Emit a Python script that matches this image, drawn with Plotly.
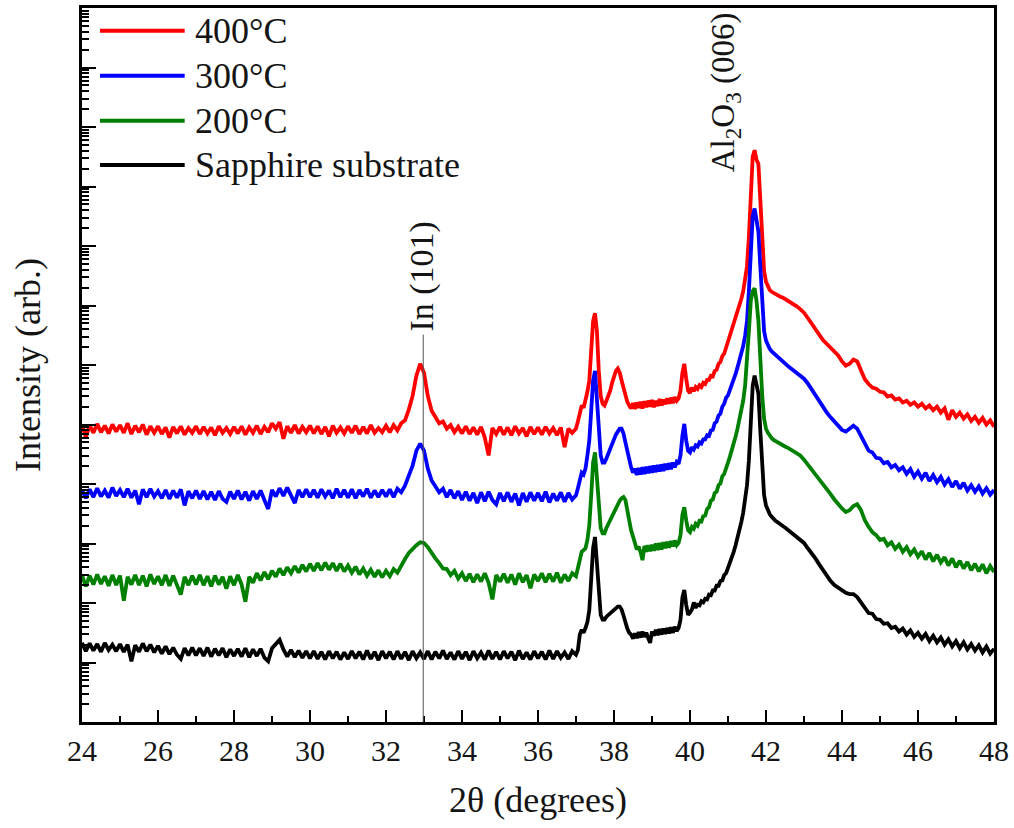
import plotly.graph_objects as go

# ---------------- data (log10 of intensity, arbitrary units) ----------------
def grid(start, stop, step):
    n = int(round((stop - start) / step)) + 1
    return [round(start + i * step, 2) for i in range(n)]

# sampling grid of 2-theta (degrees): 0.1 deg steps, 0.05 deg across the peak region
TWO_THETA = grid(24.0, 36.9, 0.1) + grid(37.0, 42.5, 0.05) + grid(42.6, 48.0, 0.1)

LOG_I_400 = [
    # 24.0 - 36.9
    5.00, 4.78, 4.99, 4.86, 5.01, 4.87, 4.98, 4.85, 5.00, 4.88,
    4.99, 4.86, 5.02, 4.84, 4.98, 4.87, 5.00, 4.83, 4.97, 4.86,
    4.97, 4.84, 4.95, 4.78, 4.96, 4.85, 4.97, 4.83, 4.94, 4.86,
    4.97, 4.84, 4.96, 4.85, 4.95, 4.82, 4.97, 4.86, 4.94, 4.84,
    4.96, 4.85, 4.97, 4.83, 4.95, 4.86, 4.98, 4.84, 4.96, 4.87,
    5.02, 4.93, 5.04, 4.76, 4.97, 4.86, 4.99, 4.85, 4.96, 4.87,
    4.98, 4.85, 4.97, 4.84, 4.96, 4.80, 4.98, 4.86, 4.95, 4.85,
    4.97, 4.86, 4.98, 4.84, 4.96, 4.85, 4.99, 4.86, 4.94, 4.87,
    4.98, 4.87, 4.99, 4.90, 5.02, 5.07, 5.25, 5.48, 5.82, 6.02,
    5.87, 5.48, 5.23, 5.12, 5.02, 5.05, 4.93, 4.99, 4.87, 4.96,
    4.85, 4.97, 4.84, 4.95, 4.83, 4.96, 4.78, 4.48, 4.94, 4.84,
    4.96, 4.83, 4.95, 4.82, 4.97, 4.85, 4.94, 4.80, 4.96, 4.84,
    4.95, 4.83, 4.96, 4.85, 4.94, 4.82, 4.95, 4.62, 4.93, 4.86,
    # 37.00 - 42.50
    4.93, 5.05, 5.23, 5.32, 5.28, 5.40, 5.55, 5.74, 6.24, 6.74,
    6.87, 6.57, 5.90, 5.48, 5.35, 5.32, 5.40, 5.48, 5.57, 5.70,
    5.82, 5.90, 5.94, 5.87, 5.74, 5.60, 5.48, 5.38, 5.32, 5.27,
    5.36, 5.26, 5.37, 5.28, 5.38, 5.27, 5.39, 5.29, 5.40, 5.30,
    5.41, 5.29, 5.40, 5.31, 5.43, 5.32, 5.42, 5.34, 5.44, 5.35,
    5.45, 5.36, 5.46, 5.40, 5.44, 5.57, 5.87, 6.02, 5.77, 5.57,
    5.53, 5.62, 5.56, 5.63, 5.60, 5.66, 5.63, 5.70, 5.68, 5.75,
    5.75, 5.82, 5.81, 5.90, 5.92, 6.02, 6.05, 6.15, 6.19, 6.29,
    6.37, 6.47, 6.57, 6.67, 6.77, 6.88, 6.99, 7.11, 7.24, 7.41,
    7.66, 8.16, 8.91, 9.50, 9.61, 9.45, 9.38, 8.75, 8.00, 7.58,
    7.40, 7.31, 7.26, 7.23, 7.21, 7.20, 7.18, 7.16, 7.14, 7.13,
    7.11,
    # 42.6 - 48.0
    7.08, 7.04, 6.99, 6.94, 6.88, 6.79, 6.69, 6.59, 6.51, 6.42,
    6.36, 6.29, 6.22, 6.16, 6.06, 5.99, 6.02, 6.09, 6.06, 5.92,
    5.76, 5.68, 5.62, 5.60, 5.55, 5.54, 5.47, 5.49, 5.42, 5.44,
    5.37, 5.40, 5.33, 5.37, 5.30, 5.35, 5.27, 5.32, 5.24, 5.30,
    5.20, 5.27, 5.08, 5.24, 5.13, 5.20, 5.10, 5.17, 5.06, 5.13,
    5.03, 5.11, 5.00, 5.07, 4.96,
]

LOG_I_300 = [
    3.90, 3.76, 3.91, 3.78, 3.93, 3.79, 3.89, 3.77, 3.94, 3.80,
    3.90, 3.78, 3.92, 3.77, 3.89, 3.66, 3.91, 3.78, 3.92, 3.79,
    3.88, 3.76, 3.90, 3.75, 3.89, 3.77, 3.91, 3.64, 3.88, 3.76,
    3.89, 3.75, 3.88, 3.74, 3.87, 3.73, 3.88, 3.75, 3.70, 3.87,
    3.75, 3.89, 3.74, 3.87, 3.72, 3.88, 3.75, 3.89, 3.73, 3.58,
    3.90, 3.79, 3.93, 3.80, 3.94, 3.81, 3.68, 3.90, 3.78, 3.91,
    3.78, 3.90, 3.77, 3.91, 3.79, 3.89, 3.76, 3.92, 3.78, 3.90,
    3.77, 3.91, 3.76, 3.90, 3.79, 3.92, 3.77, 3.89, 3.78, 3.90,
    3.79, 3.91, 3.78, 3.92, 3.86, 3.97, 4.12, 4.31, 4.56, 4.68,
    4.56, 4.26, 4.06, 3.96, 3.86, 3.92, 3.78, 3.90, 3.76, 3.88,
    3.73, 3.87, 3.72, 3.85, 3.68, 3.86, 3.71, 3.87, 3.73, 3.66,
    3.85, 3.71, 3.86, 3.70, 3.84, 3.64, 3.85, 3.70, 3.86, 3.72,
    3.85, 3.71, 3.87, 3.69, 3.84, 3.72, 3.86, 3.70, 3.85, 3.74,
    3.81, 3.93, 4.09, 4.19, 4.16, 4.26, 4.48, 4.73, 5.23, 5.74,
    5.90, 5.48, 4.90, 4.48, 4.36, 4.36, 4.43, 4.51, 4.60, 4.69,
    4.77, 4.83, 4.88, 4.93, 4.93, 4.85, 4.70, 4.55, 4.40, 4.28,
    4.19, 4.26, 4.15, 4.27, 4.16, 4.28, 4.17, 4.29, 4.18, 4.30,
    4.19, 4.31, 4.20, 4.32, 4.21, 4.33, 4.22, 4.34, 4.24, 4.35,
    4.25, 4.36, 4.28, 4.37, 4.34, 4.48, 4.81, 5.01, 4.73, 4.56,
    4.53, 4.62, 4.58, 4.65, 4.63, 4.70, 4.68, 4.75, 4.75, 4.82,
    4.81, 4.90, 4.91, 5.02, 5.05, 5.15, 5.18, 5.30, 5.35, 5.45,
    5.49, 5.57, 5.65, 5.75, 5.85, 5.96, 6.07, 6.19, 6.32, 6.49,
    6.74, 7.24, 7.91, 8.50, 8.63, 8.38, 8.24, 7.66, 6.99, 6.57,
    6.41, 6.32, 6.27, 6.23, 6.20, 6.17, 6.14, 6.10, 6.07, 6.05,
    6.02,
    5.97, 5.92, 5.87, 5.82, 5.77, 5.69, 5.59, 5.49, 5.38, 5.28,
    5.20, 5.12, 5.05, 4.98, 4.91, 4.88, 4.93, 4.98, 4.93, 4.80,
    4.66, 4.56, 4.53, 4.44, 4.43, 4.35, 4.37, 4.28, 4.32, 4.23,
    4.28, 4.17, 4.25, 4.12, 4.21, 4.09, 4.19, 4.05, 4.15, 4.03,
    4.12, 3.99, 4.08, 3.95, 4.05, 3.92, 4.02, 3.89, 3.98, 3.87,
    3.96, 3.84, 3.93, 3.82, 3.90,
]

LOG_I_200 = [
    2.47, 2.28, 2.46, 2.31, 2.48, 2.32, 2.45, 2.29, 2.47, 2.30,
    2.46, 2.04, 2.44, 2.31, 2.47, 2.30, 2.46, 2.28, 2.48, 2.32,
    2.45, 2.30, 2.47, 2.29, 2.46, 2.31, 2.14, 2.44, 2.30, 2.46,
    2.31, 2.47, 2.30, 2.45, 2.28, 2.46, 2.31, 2.44, 2.24, 2.45,
    2.30, 2.47, 2.31, 2.02, 2.44, 2.34, 2.50, 2.38, 2.52, 2.40,
    2.54, 2.44, 2.58, 2.47, 2.60, 2.50, 2.62, 2.51, 2.64, 2.53,
    2.66, 2.54, 2.67, 2.55, 2.68, 2.56, 2.67, 2.54, 2.66, 2.53,
    2.63, 2.51, 2.61, 2.48, 2.58, 2.46, 2.56, 2.44, 2.55, 2.43,
    2.54, 2.45, 2.57, 2.51, 2.64, 2.74, 2.84, 2.91, 2.97, 3.02,
    3.01, 2.94, 2.84, 2.75, 2.67, 2.58, 2.57, 2.47, 2.54, 2.41,
    2.50, 2.37, 2.49, 2.35, 2.48, 2.36, 2.50, 2.34, 2.06, 2.47,
    2.36, 2.49, 2.34, 2.48, 2.31, 2.50, 2.35, 2.47, 2.25, 2.48,
    2.37, 2.50, 2.35, 2.49, 2.36, 2.51, 2.34, 2.48, 2.37, 2.50,
    2.45, 2.58, 2.72, 2.86, 2.89, 2.92, 3.06, 3.31, 3.81, 4.36,
    4.53, 4.14, 3.56, 3.26, 3.17, 3.17, 3.26, 3.33, 3.39, 3.46,
    3.53, 3.60, 3.66, 3.72, 3.76, 3.78, 3.73, 3.59, 3.39, 3.22,
    3.09, 3.01, 2.90, 2.95, 2.85, 2.72, 2.96, 2.86, 2.97, 2.87,
    2.98, 2.88, 3.00, 2.89, 3.01, 2.90, 3.02, 2.92, 3.03, 2.93,
    3.04, 2.95, 3.05, 2.97, 3.01, 3.14, 3.48, 3.61, 3.39, 3.22,
    3.19, 3.28, 3.25, 3.33, 3.30, 3.38, 3.37, 3.46, 3.47, 3.58,
    3.61, 3.72, 3.74, 3.85, 3.87, 3.98, 4.01, 4.13, 4.17, 4.29,
    4.36, 4.46, 4.56, 4.68, 4.80, 4.93, 5.07, 5.22, 5.40, 5.65,
    6.04, 6.57, 7.08, 7.24, 7.29, 7.08, 6.74, 6.07, 5.49, 5.10,
    4.93, 4.86, 4.81, 4.77, 4.74, 4.72, 4.70, 4.68, 4.66, 4.65,
    4.63,
    4.60, 4.56, 4.53, 4.48, 4.41, 4.33, 4.24, 4.16, 4.08, 3.99,
    3.91, 3.83, 3.74, 3.66, 3.59, 3.53, 3.56, 3.63, 3.66, 3.56,
    3.39, 3.28, 3.19, 3.14, 3.06, 3.08, 2.97, 3.02, 2.91, 2.98,
    2.86, 2.94, 2.82, 2.90, 2.78, 2.87, 2.73, 2.84, 2.70, 2.81,
    2.68, 2.77, 2.63, 2.75, 2.60, 2.71, 2.58, 2.69, 2.55, 2.66,
    2.53, 2.65, 2.50, 2.62, 2.52,
]

LOG_I_SUB = [
    1.33, 1.19, 1.32, 1.20, 1.31, 1.18, 1.33, 1.21, 1.30, 1.19,
    1.31, 1.18, 1.30, 1.02, 1.29, 1.18, 1.32, 1.19, 1.30, 1.17,
    1.28, 1.15, 1.27, 1.14, 1.25, 1.13, 1.06, 1.24, 1.12, 1.25,
    1.12, 1.24, 1.11, 1.25, 1.10, 1.23, 1.12, 1.24, 1.09, 1.22,
    1.11, 1.23, 1.10, 1.24, 1.09, 1.22, 1.11, 1.23, 1.08, 1.02,
    1.24, 1.30, 1.38, 1.22, 1.10, 1.21, 1.09, 1.20, 1.08, 1.19,
    1.07, 1.19, 1.06, 1.18, 1.05, 1.19, 1.07, 1.18, 1.05, 1.17,
    1.06, 1.19, 1.07, 1.18, 1.05, 1.20, 1.06, 1.18, 1.04, 1.19,
    1.07, 1.18, 1.05, 1.19, 1.06, 1.18, 1.04, 1.19, 1.07, 1.17,
    1.06, 1.19, 1.05, 1.18, 1.07, 1.20, 1.06, 1.17, 1.05, 1.19,
    1.06, 1.18, 1.04, 1.19, 1.07, 1.17, 1.05, 1.20, 1.06, 1.18,
    1.05, 1.19, 1.07, 1.18, 1.04, 1.20, 1.06, 1.17, 1.05, 1.19,
    1.07, 1.18, 1.05, 1.20, 1.06, 1.19, 1.08, 1.17, 1.06, 1.19,
    1.13, 1.21, 1.47, 1.55, 1.50, 1.58, 1.68, 1.88, 2.30, 2.92,
    3.11, 2.72, 2.14, 1.80, 1.72, 1.72, 1.77, 1.80, 1.84, 1.87,
    1.90, 1.92, 1.94, 1.94, 1.89, 1.79, 1.66, 1.57, 1.50, 1.47,
    1.40, 1.49, 1.41, 1.51, 1.42, 1.52, 1.43, 1.50, 1.41, 1.33,
    1.52, 1.45, 1.55, 1.46, 1.56, 1.47, 1.57, 1.48, 1.58, 1.49,
    1.59, 1.50, 1.60, 1.53, 1.58, 1.72, 2.09, 2.22, 1.97, 1.80,
    1.84, 1.89, 2.01, 1.92, 1.97, 1.96, 2.03, 2.01, 2.07, 2.06,
    2.14, 2.13, 2.21, 2.21, 2.29, 2.29, 2.37, 2.38, 2.47, 2.50,
    2.59, 2.67, 2.75, 2.86, 2.97, 3.09, 3.22, 3.36, 3.52, 3.73,
    3.98, 4.40, 5.07, 5.65, 5.82, 5.65, 5.52, 4.90, 4.23, 3.81,
    3.64, 3.56, 3.49, 3.45, 3.41, 3.38, 3.36, 3.33, 3.31, 3.29,
    3.27,
    3.22, 3.17, 3.12, 3.07, 3.01, 2.92, 2.84, 2.75, 2.65, 2.55,
    2.45, 2.37, 2.30, 2.25, 2.20, 2.17, 2.15, 2.15, 2.10, 2.01,
    1.92, 1.83, 1.82, 1.73, 1.72, 1.65, 1.66, 1.58, 1.60, 1.52,
    1.57, 1.47, 1.54, 1.43, 1.50, 1.40, 1.48, 1.36, 1.45, 1.34,
    1.42, 1.30, 1.39, 1.27, 1.36, 1.24, 1.34, 1.22, 1.31, 1.20,
    1.29, 1.17, 1.27, 1.15, 1.23,
]

SERIES_NAMES = ["400°C", "300°C", "200°C", "Sapphire substrate"]
SERIES_COLORS = ["#ff0000", "#0000ff", "#008000", "#000000"]
SERIES_LOGS = [LOG_I_400, LOG_I_300, LOG_I_200, LOG_I_SUB]

IN_101_POS = 32.98      # 2-theta of the In (101) reflection
AL2O3_LABEL_POS = 40.92 # label location next to the Al2O3 (006) peak

for s in SERIES_LOGS:
    assert len(s) == len(TWO_THETA), (len(s), len(TWO_THETA))

FONT = "Liberation Serif, Times New Roman, serif"
TXT = "#141414"

fig = go.Figure()
for name, color, logs in zip(SERIES_NAMES, SERIES_COLORS, SERIES_LOGS):
    fig.add_trace(go.Scatter(
        x=TWO_THETA, y=[10 ** v for v in logs], mode="lines", name=name,
        line=dict(color=color, width=3.8), showlegend=False,
    ))

# In (101) marker line
fig.add_shape(type="line", xref="x", yref="paper", x0=IN_101_POS, x1=IN_101_POS,
              y0=0, y1=0.5425, line=dict(color="#555555", width=1))

annotations = [
    dict(x=IN_101_POS - 0.03, y=0.624, xref="x", yref="paper", text="In (101)",
         textangle=-90, showarrow=False, xanchor="center", yanchor="middle",
         font=dict(family=FONT, size=34, color=TXT)),
    dict(x=AL2O3_LABEL_POS, y=0.882, xref="x", yref="paper",
         text="Al<sub>2</sub>O<sub>3</sub> (006)",
         textangle=-90, showarrow=False, xanchor="center", yanchor="middle",
         font=dict(family=FONT, size=33, color=TXT)),
]

# manual legend (long line samples as in the original)
leg_y = [0.968, 0.905, 0.842, 0.780]
for name, color, yy in zip(SERIES_NAMES, SERIES_COLORS, leg_y):
    fig.add_shape(type="line", xref="paper", yref="paper", x0=0.0197, x1=0.1126,
                  y0=yy, y1=yy, line=dict(color=color, width=4))
    annotations.append(dict(x=0.1213, y=yy, xref="paper", yref="paper", text=name,
                            showarrow=False, xanchor="left", yanchor="middle",
                            font=dict(family=FONT, size=36, color=TXT)))

fig.update_layout(
    width=1014, height=828,
    margin=dict(l=82, r=17, t=5, b=106),
    paper_bgcolor="white", plot_bgcolor="white",
    annotations=annotations,
    font=dict(family=FONT, size=30, color=TXT),
)
fig.update_xaxes(
    range=[24, 48], dtick=2, tick0=24,
    ticks="inside", ticklen=12, tickwidth=2, tickcolor="black",
    showline=True, linecolor="black", linewidth=2.5, mirror=True,
    showgrid=False, zeroline=False,
    tickfont=dict(family=FONT, size=30, color=TXT),
    minor=dict(ticks="inside", ticklen=6, tickwidth=2, dtick=1, tickcolor="black", showgrid=False),
    title=dict(text="2θ (degrees)", font=dict(family=FONT, size=36, color=TXT), standoff=22),
)
fig.update_yaxes(
    type="log", range=[0, 12], dtick=1,
    ticks="inside", ticklen=14, tickwidth=2, tickcolor="black",
    showticklabels=False,
    showline=True, linecolor="black", linewidth=2.5, mirror=True,
    showgrid=False, zeroline=False,
    minor=dict(ticks="inside", ticklen=7, tickwidth=1.5, dtick="D1", tickcolor="black", showgrid=False),
    title=dict(text="Intensity (arb.)", font=dict(family=FONT, size=36, color=TXT), standoff=28),
)

fig.write_html("out.html", config={"displayModeBar": False},
               post_script="document.body.style.margin='0';")
